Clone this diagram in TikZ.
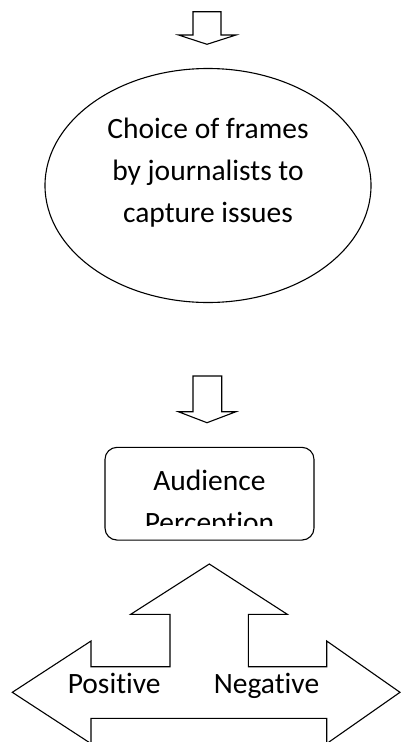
\documentclass[tikz,border=0pt]{standalone}
\usepackage{fontspec}
\setmainfont[Ligatures={NoCommon}]{Carlito}
\usetikzlibrary{shapes.geometric}
\begin{document}
\begin{tikzpicture}[x=1pt,y=-1pt,
  outline/.style={draw=black,line width=1.1pt,line join=miter},
  lbl/.style={font=\fontsize{29.5}{42}\selectfont,inner sep=0pt,anchor=base,text=black}]
\useasboundingbox (0,0) rectangle (401,742);
\fill[white] (0,0) rectangle (401,742);
% top block arrow
\draw[outline] (193,11.7) -- (221,11.7) -- (221,35) -- (236,35) -- (207,44.3) -- (178.5,35) -- (193,35) -- cycle;
% ellipse
\node[ellipse,outline,minimum width=326pt,minimum height=234pt,inner sep=0pt] (e) at (208,185.5) {};
\node[lbl] (et1) at (208,138) {Choice of frames};
\node[lbl] (et2) at (208,180) {by journalists to};
\node[lbl] (et3) at (208,222) {capture issues};
% second block arrow
\draw[outline] (193,376) -- (221.7,376) -- (221.7,411.7) -- (236,411.7) -- (207,422.7) -- (178.3,411.7) -- (193,411.7) -- cycle;
% rounded rectangle
\node[outline,rounded corners=12pt,minimum width=209pt,minimum height=92.7pt,inner sep=0pt] (ap) at (209.5,493.7) {};
\node[lbl] (aud) at (209.5,490) {Audience};
\begin{scope}
\clip (106,448) rectangle (313,525);
\node[lbl] (per) at (209.5,532) {Perception};
\end{scope}
% bottom three-way arrow
\draw[outline] (209.3,564) -- (287.3,614.3) -- (248.3,614.3) -- (248.3,666.7) -- (326.7,666.7) -- (326.7,641)
  -- (400,692.3) -- (326.7,743.6) -- (326.7,718.3) -- (91,718.3) -- (91,743.6) -- (12.3,692.3)
  -- (91,641) -- (91,666.7) -- (170,666.7) -- (170,614.3) -- (130.7,614.3) -- cycle;
\node[lbl] (pos) at (114.2,693) {Positive};
\node[lbl] (neg) at (266.5,693) {Negative};
\end{tikzpicture}
\end{document}
